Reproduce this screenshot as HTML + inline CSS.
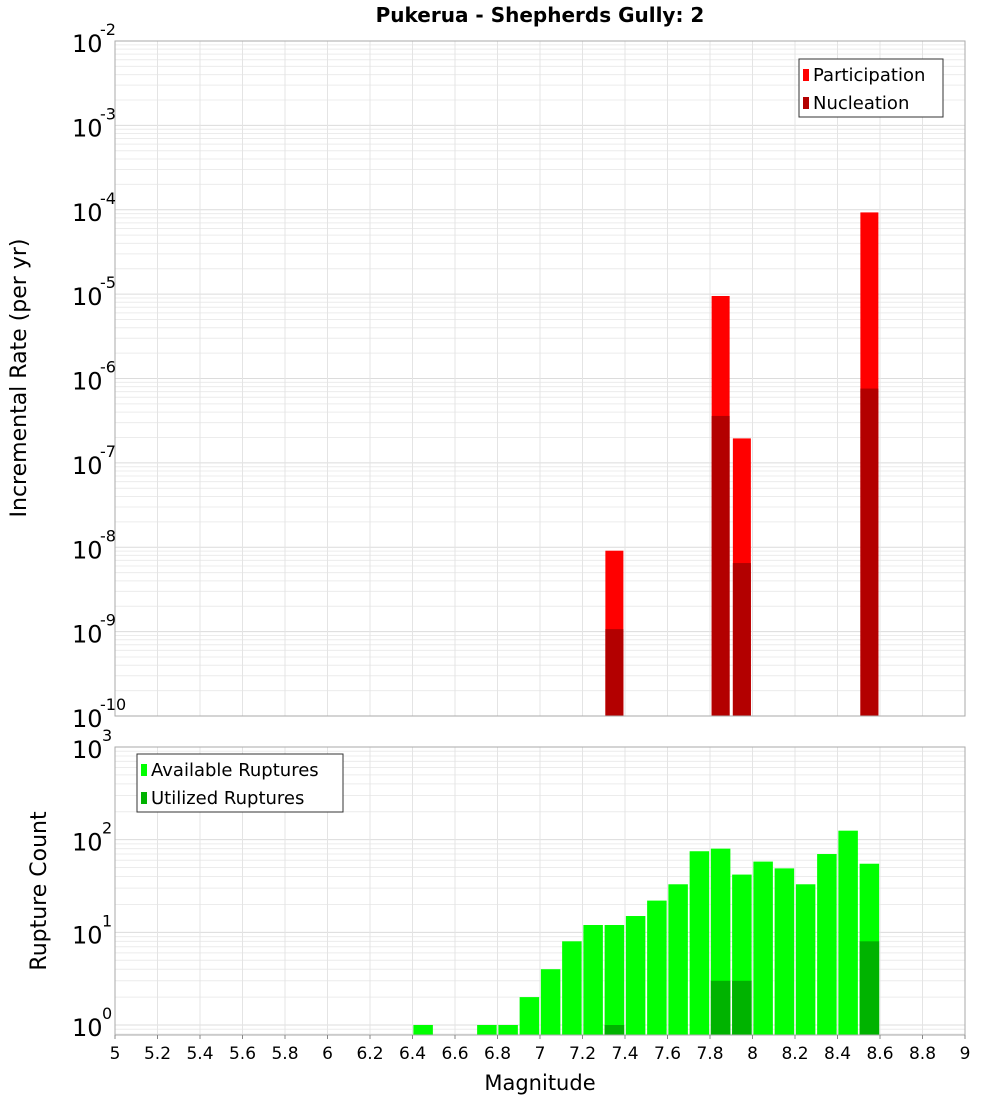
<!DOCTYPE html>
<html><head><meta charset="utf-8"><style>
body{margin:0;background:#fff;font-family:"DejaVu Sans","Liberation Sans",sans-serif}
</style></head><body>
<svg id="c" width="1000" height="1100" xmlns="http://www.w3.org/2000/svg" font-family="DejaVu Sans, Liberation Sans, sans-serif"></svg>
<script>
const mags=[7.35,7.85,7.95,8.55];
const partRates=[9.1e-9,9.5e-6,1.95e-7,9.3e-5];
const nuclRates=[1.07e-9,3.6e-7,6.5e-9,7.6e-7];
const cntMags=[6.45,6.75,6.85,6.95,7.05,7.15,7.25,7.35,7.45,7.55,7.65,7.75,7.85,7.95,8.05,8.15,8.25,8.35,8.45,8.55];
const availCounts=[1,1,1,2,4,8,12,12,15,22,33,75,80,42,58,49,33,70,125,55];
const utilMags=[7.35,7.85,7.95,8.55];
const utilCounts=[1,3,3,8];
const xTicks=[5,5.2,5.4,5.6,5.8,6,6.2,6.4,6.6,6.8,7,7.2,7.4,7.6,7.8,8,8.2,8.4,8.6,8.8,9];
const topExps=[-10,-9,-8,-7,-6,-5,-4,-3,-2];
const botExps=[0,1,2,3];

const svg=document.getElementById('c');const NS='http://www.w3.org/2000/svg';
function el(t,a,p){const e=document.createElementNS(NS,t);for(const k in a)e.setAttribute(k,a[k]);(p||svg).appendChild(e);return e;}
const X0=115,X1=965;
const x=m=>X0+(m-5)/4*(X1-X0);
const T0=41,T1=716;const yT=v=>T0+(-2-Math.log10(v))/8*(T1-T0);
const B0=747,B1=1035;const bDec=(1025-747)/3;const yB=v=>B0+(3-Math.log10(v))*bDec;

function grid(y0,y1,yf,exps){
 for(let i=0;i<exps.length-1;i++)for(let k=2;k<10;k++){const yy=yf(k*Math.pow(10,exps[i]));if(yy>y0&&yy<y1){const l=el('line',{x1:X0,x2:X1,y1:yy,y2:yy,stroke:'#ececec','stroke-width':1});}}
 if(exps[0]==0){for(let k=8;k<10;k++){const yy=yf(k/10);if(yy<y1){el('line',{x1:X0,x2:X1,y1:yy,y2:yy,stroke:'#ececec'});}}}
 exps.forEach(e=>{const yy=yf(Math.pow(10,e));const l=el('line',{x1:X0,x2:X1,y1:yy,y2:yy,stroke:'#dcdcdc'});});
 xTicks.forEach(t=>{const l=el('line',{x1:x(t),x2:x(t),y1:y0,y2:y1,stroke:'#e4e4e4'});});
}
grid(T0,T1,yT,topExps);grid(B0,B1,yB,botExps);

function bar(m,v,yf,ybot,col,name,w){const y=yf(v);const r=el('rect',{x:x(m-0.05)+(21.25-w)/2,y:y,width:w,height:ybot-y,fill:col});}
mags.forEach((m,i)=>bar(m,partRates[i],yT,T1,'#ff0000','participation-bar',18));
mags.forEach((m,i)=>bar(m,nuclRates[i],yT,T1,'#b30000','nucleation-bar',18));
cntMags.forEach((m,i)=>bar(m,availCounts[i],yB,B1,'#00ff00','available-bar',19.5));
utilMags.forEach((m,i)=>bar(m,utilCounts[i],yB,B1,'#00b300','utilized-bar',19.5));

[[T0,T1],[B0,B1]].forEach(([a,b],i)=>{const r=el('rect',{x:X0,y:a,width:X1-X0,height:b-a,fill:'none',stroke:'#aaa'});});

function ylab(yy,e,name){const t=el('text',{x:104,y:yy+10,'text-anchor':'end','font-size':24,fill:'#000'});
 t.appendChild(document.createTextNode('10'));const s=el('tspan',{dy:-15,'font-size':16},t);s.textContent=String(e);}
topExps.forEach(e=>{const yy=yT(Math.pow(10,e));const t=el('text',{x:72,y:yy+11,'font-size':24});t.textContent='10';const s=el('text',{x:100,y:yy-6,'font-size':16});s.textContent=String(e);});
botExps.forEach(e=>{const yy=yB(Math.pow(10,e));const t=el('text',{x:72,y:yy+11,'font-size':24});t.textContent='10';const s=el('text',{x:102,y:yy-6,'font-size':16});s.textContent=String(e);});

xTicks.forEach(t=>{const l=el('line',{x1:x(t),x2:x(t),y1:B1,y2:B1+4,stroke:'#888'});const s=el('text',{x:x(t),y:1059,'text-anchor':'middle','font-size':17});s.textContent=String(t);});

function txt(s,a,name){const t=el('text',a);t.textContent=s;return t;}
txt('Pukerua - Shepherds Gully: 2',{x:540,y:22,'text-anchor':'middle','font-size':20,'font-weight':'bold'},'chart-title');
txt('Magnitude',{x:540,y:1090,'text-anchor':'middle','font-size':21},'x-axis-title');
txt('Incremental Rate (per yr)',{x:0,y:0,transform:'translate(26,378) rotate(-90)','text-anchor':'middle','font-size':22},'top-y-axis-title');
txt('Rupture Count',{x:0,y:0,transform:'translate(46,891) rotate(-90)','text-anchor':'middle','font-size':22},'bottom-y-axis-title');

function legend(x0,y0,w,items,name){const g=el('g',{});
 el('rect',{x:x0,y:y0,width:w,height:58,fill:'#fff',stroke:'#333'},g);
 items.forEach((it,i)=>{el('rect',{x:x0+4,y:y0+10+i*28,width:6,height:12,fill:it[1]},g);const t=el('text',{x:x0+14,y:y0+22+i*28,'font-size':18},g);t.textContent=it[0];});}
legend(799,59,144,[['Participation','#ff0000'],['Nucleation','#b30000']],'top-legend');
legend(137,754,206,[['Available Ruptures','#00ff00'],['Utilized Ruptures','#00b300']],'bottom-legend');
</script>
</body></html>
